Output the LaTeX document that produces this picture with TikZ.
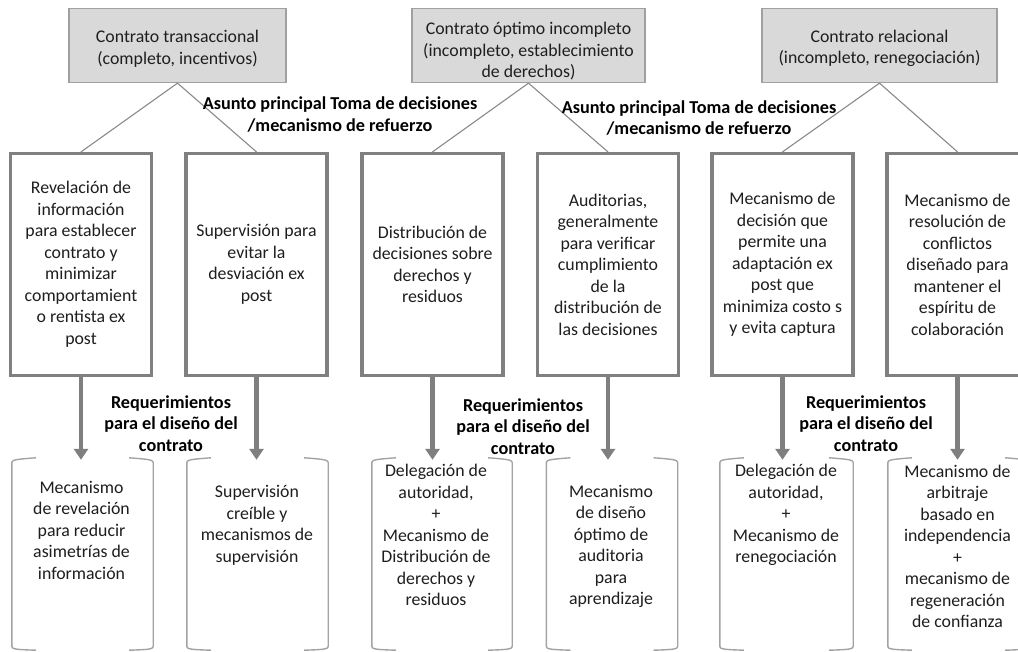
\documentclass[tikz,border=0pt]{standalone}
\usepackage{fontspec}
\setmainfont{Carlito}
\usetikzlibrary{arrows.meta}
\definecolor{topfill}{HTML}{D9D9D9}
\definecolor{topline}{HTML}{A0A0A0}
\definecolor{midline}{HTML}{808080}
\definecolor{connline}{HTML}{8A8A8A}
\definecolor{arrline}{HTML}{7F7F7F}
\definecolor{brkline}{HTML}{A3A3A3}
\definecolor{txt}{HTML}{1E1E1E}
\begin{document}
\begin{tikzpicture}[x=1pt,y=-1pt,
  every node/.style={font=\fontsize{17.8}{21.5}\selectfont, text=txt, inner sep=0pt, align=center},
  topbox/.style={draw=topline, fill=topfill, line width=1.3pt, minimum height=74pt},
  midbox/.style={draw=midline, fill=white, line width=3.2pt, minimum width=141pt, minimum height=222pt},
  brkframe/.style={minimum height=189pt},
  conn/.style={draw=connline, line width=1.1pt},
  arr/.style={draw=arrline, line width=4.5pt, -{Triangle[width=14pt,length=11pt]}},
  brk/.style={draw=brkline, line width=1.4pt},
  lbl/.style={font=\fontsize{18.2}{21.5}\selectfont\bfseries, text=black}
]
\useasboundingbox (0,0) rectangle (1018,652);
\fill[white] (0,0) rectangle (1018,652);
\clip (0,0) rectangle (1018,652);

% top boxes
\node[topbox, minimum width=217pt] (t1) at (177.5,45.5) {\rule{0pt}{18.5pt}Contrato transaccional\\(completo, incentivos)};
\node[topbox, minimum width=233pt] (t2) at (528.5,45.5) {\rule{0pt}{23.5pt}Contrato óptimo incompleto\\(incompleto, establecimiento\\de derechos)};
\node[topbox, minimum width=235pt] (t3) at (879.5,45.5) {\rule{0pt}{18.5pt}Contrato relacional\\(incompleto, renegociación)};

% middle boxes
\node[midbox] (m1) at (81,264.5) {Revelación de\\información\\para establecer\\contrato y\\minimizar\\comportamient\\o rentista ex\\post};
\node[midbox] (m2) at (256.5,264.5) {Supervisión para\\evitar la\\desviación ex\\post};
\node[midbox] (m3) at (432.5,264.5) {Distribución de\\decisiones sobre\\derechos y\\residuos};
\node[midbox] (m4) at (608,264.5) {Auditorias,\\generalmente\\para verificar\\cumplimiento\\de la\\distribución de\\las decisiones};
\node[midbox] (m5) at (782.5,264.5) {Mecanismo de\\decisión que\\permite una\\adaptación ex\\post que\\minimiza costo s\\y evita captura};
\node[midbox] (m6) at (957.5,264.5) {Mecanismo de\\resolución de\\conflictos\\diseñado para\\mantener el\\espíritu de\\colaboración};

% connectors
\draw[conn] (t1.south) -- (m1.north);
\draw[conn] (t1.south) -- (m2.north);
\draw[conn] (t2.south) -- (m3.north);
\draw[conn] (t2.south) -- (m4.north);
\draw[conn] (t3.south) -- (m5.north);
\draw[conn] (t3.south) -- (m6.north);

% labels
\node[lbl] (a1) at (340,114.5) {Asunto principal Toma de decisiones\\/mecanismo de refuerzo};
\node[lbl] (a2) at (699,118) {Asunto principal Toma de decisiones\\/mecanismo de refuerzo};
\node[lbl] (r1) at (171,423.5) {Requerimientos\\para el diseño del\\contrato};
\node[lbl] (r2) at (523,426.5) {Requerimientos\\para el diseño del\\contrato};
\node[lbl] (r3) at (866,423.5) {Requerimientos\\para el diseño del\\contrato};

% bracket frames
\node[brkframe, minimum width=141pt] (b1) at (82.5,554.5) {};
\node[brkframe, minimum width=141pt] (b2) at (257.5,554.5) {};
\node[brkframe, minimum width=140pt] (b3) at (442,554.5) {};
\node[brkframe, minimum width=131pt] (b4) at (612,554.5) {};
\node[brkframe, minimum width=133pt] (b5) at (786.5,554.5) {};
\node[brkframe, minimum width=141pt] (b6) at (958.5,554.5) {};

\foreach \b in {b1,b2,b3,b4,b5,b6}{
  \draw[brk] ([xshift=24pt,yshift=2pt]\b.north west) .. controls ([xshift=5pt,yshift=0.6pt]\b.north west) and ([xshift=0.5pt]\b.north west) .. ([yshift=-2.5pt]\b.north west) -- ([yshift=2.5pt]\b.south west) .. controls ([xshift=0.5pt]\b.south west) and ([xshift=5pt,yshift=-0.4pt]\b.south west) .. ([xshift=24pt,yshift=-1pt]\b.south west);
  \draw[brk] ([xshift=-24pt,yshift=2pt]\b.north east) .. controls ([xshift=-5pt,yshift=0.6pt]\b.north east) and ([xshift=-0.5pt]\b.north east) .. ([yshift=-2.5pt]\b.north east) -- ([yshift=2.5pt]\b.south east) .. controls ([xshift=-0.5pt]\b.south east) and ([xshift=-5pt,yshift=-0.4pt]\b.south east) .. ([xshift=-24pt,yshift=-1pt]\b.south east);
}

% bracket texts
\node (bt1) at (81.5,530) {Mecanismo\\de revelación\\para reducir\\asimetrías de\\información};
\node (bt2) at (257,525.5) {Supervisión\\creíble y\\mecanismos de\\supervisión};
\node (bt3) at (436,535) {Delegación de\\autoridad,\\+\\Mecanismo de\\Distribución de\\derechos y\\residuos};
\node (bt4) at (611,546.5) {Mecanismo\\de diseño\\óptimo de\\auditoria\\para\\aprendizaje};
\node (bt5) at (786,515) {Delegación de\\autoridad,\\+\\Mecanismo de\\renegociación};
\node (bt6) at (957.5,546.5) {Mecanismo de\\arbitraje\\basado en\\independencia\\+\\mecanismo de\\regeneración\\de confianza};

% arrows
\draw[arr] (m1.south) -- (m1.south |- b1.north);
\draw[arr] (m2.south) -- (m2.south |- b2.north);
\draw[arr] (m3.south) -- (m3.south |- b3.north);
\draw[arr] (m4.south) -- (m4.south |- b4.north);
\draw[arr] (m5.south) -- (m5.south |- b5.north);
\draw[arr] (m6.south) -- (m6.south |- b6.north);
\end{tikzpicture}
\end{document}
